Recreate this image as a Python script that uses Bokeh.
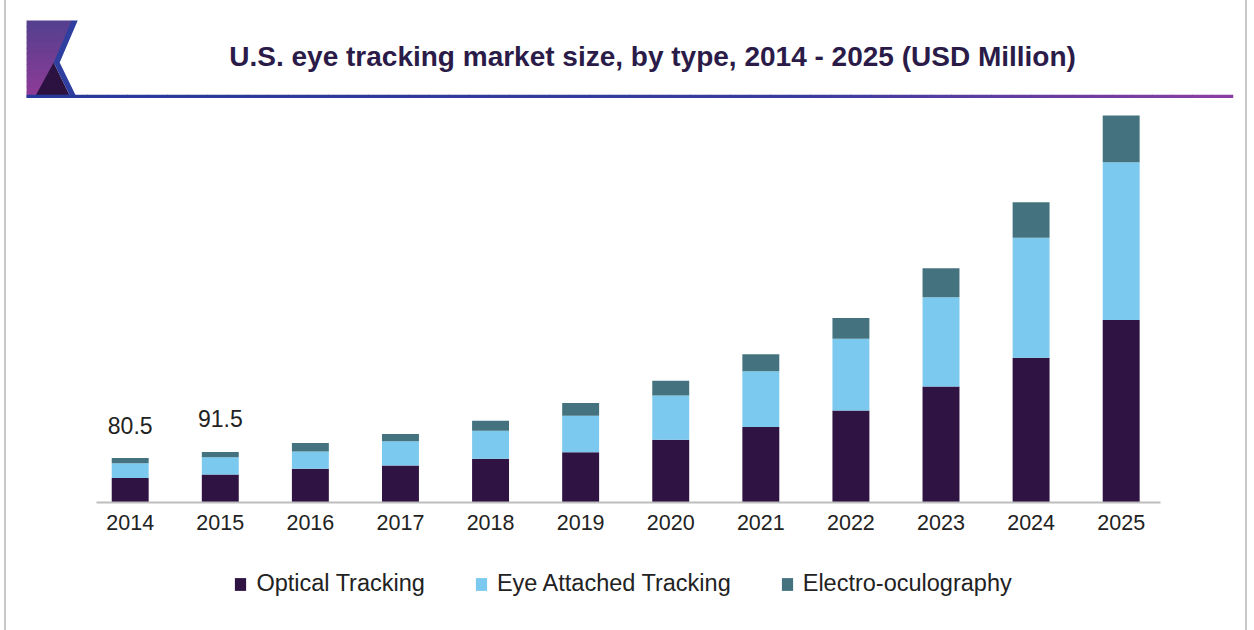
from bokeh.plotting import figure
from bokeh.models import Range1d, FixedTicker, Legend, LegendItem, Label, ColumnDataSource
from bokeh.core.properties import value
from bokeh.embed import file_html
from bokeh.resources import INLINE

# ---------------- data ----------------
years = ["2014", "2015", "2016", "2017", "2018", "2019", "2020", "2021", "2022", "2023", "2024", "2025"]
optical = [44.5, 50.5, 61.0, 67.0, 79.0, 91.0, 113.5, 136.5, 166.5, 210.0, 262.0, 330.5]
eye_attached = [26.5, 31.5, 31.5, 44.0, 51.0, 66.0, 80.0, 101.0, 130.0, 161.5, 217.0, 285.5]
electro = [9.5, 9.5, 15.0, 13.0, 18.0, 23.0, 27.0, 31.0, 37.5, 52.5, 64.5, 84.5]
series_names = ["Optical Tracking", "Eye Attached Tracking", "Electro-oculography"]
label_years = ["2014", "2015"]
label_values = [80.5, 91.5]

title_text = "U.S. eye tracking market size, by type, 2014 - 2025 (USD Million)"

# ---------------- style / layout ----------------
colors = ["#2f1343", "#7bc9ef", "#44737f"]
FONT = "Liberation Sans"
OX = 6                      # page x of the canvas' left edge
W, H = 1243, 630
CW = W - 4                  # canvas width (2px borders on each side, border-box)
BASE = 502                  # page y of the bar baseline
pitch = 89.8
first_center = 129.3 - OX
y_scale = 1.81              # units per pixel

x_idx = list(range(len(years)))
src = ColumnDataSource(dict(x=x_idx, opt=optical, eye=eye_attached, ele=electro))

p = figure(width=W, height=H,
           x_range=Range1d(-first_center / pitch, (CW - first_center) / pitch),
           y_range=Range1d(-(H - BASE) * y_scale, BASE * y_scale),
           output_backend="svg", toolbar_location=None, y_axis_location=None,
           min_border_left=0, min_border_right=0, min_border_top=0, min_border_bottom=0,
           outline_line_color=None, background_fill_color="white", border_fill_color="white",
           styles={"margin-left": "4px",
                   "border-left": "2px solid #c8c8c8", "border-right": "2px solid #c8c8c8"})
p.xgrid.visible = False
p.ygrid.visible = False

p.extra_x_ranges = {"px": Range1d(0, CW)}
p.extra_y_ranges = {"px": Range1d(H, 0)}

renderers = p.vbar_stack(["opt", "eye", "ele"], x="x", width=0.41, color=colors,
                         line_color=None, source=src)

# value labels
lab_x = [years.index(y) for y in label_years]
p.text(x=lab_x, y=label_values, text=[f"{v:.1f}" for v in label_values],
       y_offset=-33, text_align="center", text_baseline="alphabetic",
       text_font=value(FONT), text_font_size="23px", text_color="#222222")

# x axis, pinned to the value 0 inside the frame
ax = p.xaxis[0]
ax.fixed_location = 0
ax.ticker = FixedTicker(ticks=x_idx)
ax.major_label_overrides = {i: y for i, y in enumerate(years)}
ax.major_label_text_font = FONT
ax.major_label_text_font_size = "21.5px"
ax.major_label_text_color = "#222222"
ax.axis_line_color = "#bdbdbd"
ax.axis_line_width = 2
ax.major_tick_line_color = None
ax.minor_tick_line_color = None
ax.major_tick_out = 0
ax.major_tick_in = 0
ax.major_label_standoff = 12
ax.bounds = ((96 - OX - first_center) / pitch, (1156 - OX - first_center) / pitch)

# legend below the axis
legend = Legend(items=[LegendItem(label=n, renderers=[r]) for r, n in zip(renderers, series_names)],
                location=(233.4 - OX, H - 597), orientation="horizontal",
                glyph_width=14, glyph_height=16, label_standoff=9, spacing=49,
                padding=0, margin=0, border_line_color=None, background_fill_alpha=0,
                label_text_font=FONT, label_text_font_size="23.5px", label_text_color="#222222")
p.add_layout(legend, "center")

# ---------------- header decoration (pixel coordinates) ----------------
def px(pts):
    return [x - OX for x, y in pts], [y for x, y in pts]

def hexmix(c1, c2, t):
    a = [int(c1[i:i + 2], 16) for i in (1, 3, 5)]
    b = [int(c2[i:i + 2], 16) for i in (1, 3, 5)]
    return "#%02x%02x%02x" % tuple(round(a[k] + (b[k] - a[k]) * t) for k in range(3))

def redge(y):
    if y <= 62:
        return 71 + (53 - 71) * (y - 20) / 42
    return 53 + (34 - 53) * (y - 62) / 35

n = 14
top, bot = 20, 97
for i in range(n):
    y0 = top + (bot - top) * i / n
    y1 = min(bot, top + (bot - top) * (i + 1) / n + 0.8)
    xs, ys = px([(26, y0), (redge(y0) + 0.8, y0), (redge(y1) + 0.8, y1), (26, y1)])
    p.patch(xs, ys, color=hexmix("#553f8e", "#8e3b97", i / (n - 1)), line_color=None,
            x_range_name="px", y_range_name="px")
xs, ys = px([(34, 97), (53, 62), (70, 97)])
p.patch(xs, ys, color="#2c1240", line_color=None, x_range_name="px", y_range_name="px")
xs, ys = px([(71, 20), (77, 20), (59, 62), (76, 97), (70, 97), (53, 62)])
p.patch(xs, ys, color="#2e3f9f", line_color=None, x_range_name="px", y_range_name="px")

# gradient underline
m = 60
x_start, x_end = 26, 1228
qs = [x_start + (x_end - x_start) * i / m for i in range(m + 1)]
qcols = []
for i in range(m):
    t = i / (m - 1)
    if t < 0.65:
        qcols.append(hexmix("#27399a", "#3b3c9f", t / 0.65))
    else:
        qcols.append(hexmix("#3b3c9f", "#8a3ea1", (t - 0.65) / 0.35))
p.quad(left=[q - OX for q in qs[:-1]], right=[q - OX + 0.8 for q in qs[1:]],
       top=[94.3] * m, bottom=[97.5] * m, color=qcols, line_color=None,
       x_range_name="px", y_range_name="px")

# title
p.add_layout(Label(x=650 - OX, y=56, x_range_name="px", y_range_name="px",
                   text=title_text, text_align="center", text_baseline="alphabetic",
                   text_font=FONT, text_font_size="28px", text_font_style="bold",
                   text_color="#2b1b48"))

open("out.html", "w").write(file_html(p, INLINE))
